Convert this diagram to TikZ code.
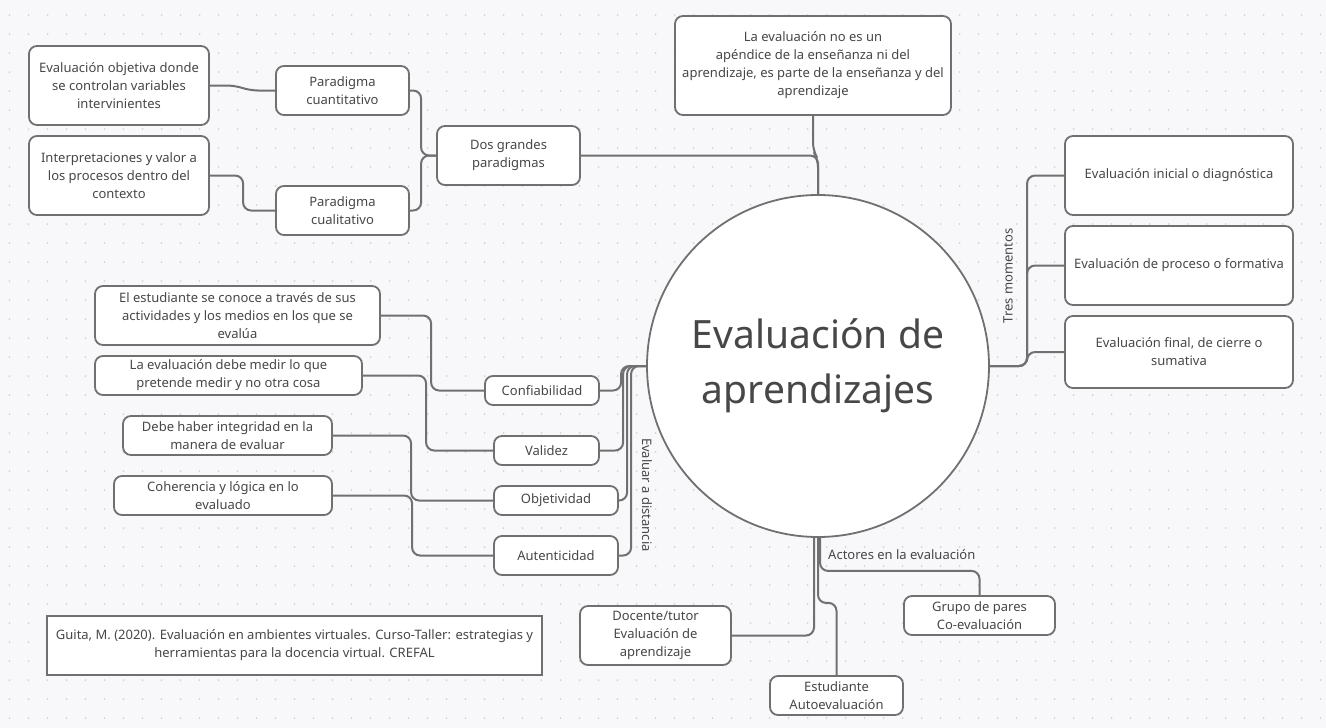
\documentclass[tikz,border=0pt]{standalone}
\usepackage{fontspec}
\setmainfont{Noto Sans}
\usetikzlibrary{calc}
\definecolor{bg}{HTML}{F8F8FA}
\definecolor{dotc}{HTML}{D4D4D8}
\definecolor{linec}{HTML}{707070}
\definecolor{txt}{HTML}{474747}
\begin{document}
\begin{tikzpicture}[x=1pt,y=-1pt,
  box/.style={draw=linec, line width=1.8pt, fill=white, rounded corners=8pt, align=center,
    font=\fontsize{13}{18}\selectfont, text=txt, inner sep=0pt},
  conn/.style={draw=linec, line width=2pt, rounded corners=8pt},
  lbl/.style={font=\fontsize{13}{18}\selectfont, text=txt, inner sep=0pt}]
\fill[bg] (0,0) rectangle (1326,728);
\useasboundingbox (0,0) rectangle (1326,728);
\foreach \i in {0,...,69} \foreach \j in {0,...,37} \fill[dotc] (9.5+19*\i,15+19*\j) circle (1);

% central
\node[draw=linec, line width=1.8pt, fill=white, circle, minimum size=342pt, inner sep=0pt,
  align=center, font=\fontsize{39}{55}\selectfont, text=txt] (hub) at (818,366) {Evaluación de\\aprendizajes};

% top
\node[box, minimum width=276pt, minimum height=99pt] (t) at (813,65.5)
  {La evaluación no es un\\apéndice de la enseñanza ni del\\aprendizaje, es parte de la enseñanza y del\\aprendizaje};
\node[box, minimum width=143pt, minimum height=59pt] (d) at (508.5,155.5) {Dos grandes\\paradigmas};
\node[box, minimum width=133pt, minimum height=49pt] (p1) at (342.5,90.5) {Paradigma\\cuantitativo};
\node[box, minimum width=133pt, minimum height=49pt] (p2) at (342.5,210.5) {Paradigma\\cualitativo};
\node[box, minimum width=180pt, minimum height=79pt] (a1) at (119,85.5) {Evaluación objetiva donde\\se controlan variables\\intervinientes};
\node[box, minimum width=180pt, minimum height=79pt] (a2) at (119,175.5) {Interpretaciones y valor a\\los procesos dentro del\\contexto};

% right
\node[box, minimum width=228pt, minimum height=79pt] (r1) at (1179,175.5) {Evaluación inicial o diagnóstica};
\node[box, minimum width=228pt, minimum height=79pt] (r2) at (1179,265.5) {Evaluación de proceso o formativa};
\node[box, minimum width=228pt, minimum height=72pt] (r3) at (1179,352) {Evaluación final, de cierre o\\sumativa};
\node[lbl, rotate=90] (tres) at (1008,276) {Tres momentos};

% left
\node[box, minimum width=285pt, minimum height=59pt] (l1) at (237.5,315.5) {El estudiante se conoce a través de sus\\actividades y los medios en los que se\\evalúa};
\node[box, minimum width=267pt, minimum height=39pt] (l2) at (228.5,375.5) {La evaluación debe medir lo que\\pretende medir y no otra cosa};
\node[box, minimum width=209pt, minimum height=39pt] (l3) at (227.5,435.5) {Debe haber integridad en la\\manera de evaluar};
\node[box, minimum width=218pt, minimum height=39pt] (l4) at (223,495.5) {Coherencia y lógica en lo\\evaluado};
\node[box, minimum width=114pt, minimum height=29pt] (c1) at (542,390.5) {Confiabilidad};
\node[box, minimum width=105pt, minimum height=29pt] (c2) at (546.5,450.5) {Validez};
\node[box, minimum width=124pt, minimum height=29pt] (c3) at (556,500.5) {Objetividad};
\node[box, minimum width=124pt, minimum height=39pt] (c4) at (556,555.5) {Autenticidad};
\node[lbl, rotate=-90] (dist) at (647,495) {Evaluar a distancia};

% bottom
\node[lbl, anchor=west] (act) at (828,555) {Actores en la evaluación};
\node[box, minimum width=151pt, minimum height=39pt] (g) at (979.5,615.5) {Grupo de pares\\Co-evaluación};
\node[box, minimum width=151pt, minimum height=59pt] (doc) at (655.5,635.5) {Docente/tutor\\Evaluación de\\aprendizaje};
\node[box, minimum width=133pt, minimum height=39pt] (e) at (836.5,695.5) {Estudiante\\Autoevaluación};

% reference
\node[draw=linec, line width=2pt, fill=white, minimum width=495pt, minimum height=59pt, inner sep=0pt,
  align=center, font=\fontsize{13}{18}\selectfont, text=txt] (ref) at (294.5,645.5)
  {Guita, M. (2020). Evaluación en ambientes virtuales. Curso-Taller: estrategias y\\herramientas para la docencia virtual. CREFAL};

% connectors
\draw[conn] (a1.east) -- ++(25,0) -- ($(p1.west)+(-25,0)$) -- (p1.west);
\draw[conn] (a2.east) -| ($(p2.west)+(-32,0)$) -- (p2.west);
\draw[conn] (p1.east) -| ($(d.west)+(-15,0)$) -- (d.west);
\draw[conn] (p2.east) -| ($(d.west)+(-15,0)$) -- (d.west);
\draw[conn] (d.east) -| (hub.north);
\draw[conn] (t.south) -- ++(0,35) -- ($(hub.north)+(0,-35)$) -- (hub.north);

\draw[conn] (r1.west) -- ++(-37,0) |- (hub.east);
\draw[conn] (r2.west) -- ++(-37,0) |- (hub.east);
\draw[conn] (r3.west) -- ++(-37,0) |- (hub.east);

\draw[conn] (c1.east) -| ($(hub.west)+(-25,0)$) -- (hub.west);
\draw[conn] (c2.east) -| ($(hub.west)+(-23,0)$) -- (hub.west);
\draw[conn] (c3.east) -| ($(hub.west)+(-19,0)$) -- (hub.west);
\draw[conn] (c4.east) -| ($(hub.west)+(-15,0)$) -- (hub.west);
\draw[conn] (l1.east) -| ($(c1.west)+(-53,0)$) -- (c1.west);
\draw[conn] (l2.east) -| ($(c2.west)+(-67,0)$) -- (c2.west);
\draw[conn] (l3.east) -| ($(c3.west)+(-82,0)$) -- (c3.west);
\draw[conn] (l4.east) -| ($(c4.west)+(-81,0)$) -- (c4.west);

\draw[conn] (doc.east) -| ($(hub.south)+(-4,0)$);
\draw[conn] (hub.south) -- ++(0,65) -| (e.north);
\draw[conn] ($(hub.south)+(2,0)$) -- ++(0,33) -| (g.north);
\end{tikzpicture}
\end{document}
